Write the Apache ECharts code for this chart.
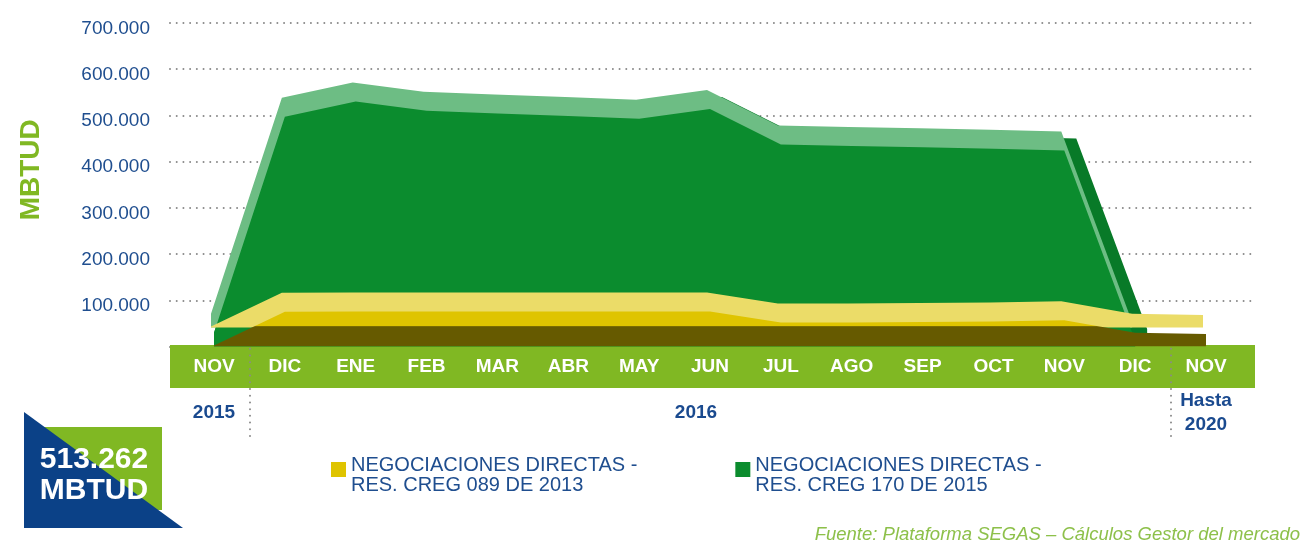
<!DOCTYPE html>
<html>
<head>
<meta charset="utf-8">
<script src="https://cdn.jsdelivr.net/npm/echarts@6/dist/echarts.min.js"></script>
<style>
  html, body { margin: 0; padding: 0; background: #fff; }
  #chart { width: 1303px; height: 544px; }
</style>
</head>
<body>
<div id="chart"></div>
<script>
// months (x axis) and the year under each one
const months = ['NOV', 'DIC', 'ENE', 'FEB', 'MAR', 'ABR', 'MAY', 'JUN', 'JUL', 'AGO', 'SEP', 'OCT', 'NOV', 'DIC', 'NOV'];
const years  = ['2015', '', '', '', '', '', '', '2016', '', '', '', '', '', '', 'Hasta\n2020'];
// dotted separators between years, as category positions
const yearBreaks = [0.5, 13.5];

// MBTUD
const res089 = [2000, 75000, 76000, 76000, 76000, 76000, 76000, 76000, 52000, 52000, 53000, 54000, 57000, 30000, 27000];
const res170 = [30000, 497000, 530000, 510000, 504000, 499000, 493000, 514000, 437000, 434000, 431000, 428000, 424000, 12000, null];

const name089 = 'NEGOCIACIONES DIRECTAS -\nRES. CREG 089 DE 2013';
const name170 = 'NEGOCIACIONES DIRECTAS -\nRES. CREG 170 DE 2015';
const total = '513.262';
const fuente = 'Fuente: Plataforma SEGAS – Cálculos Gestor del mercado';

const yFloor = 44000;   // top of the dark base under the yellow band

const BLUE = '#1f4e8f';
const LIME = '#80b823';
const DOTS = { color: '#8a8a8a', width: 2, type: [0.01, 6.7], cap: 'round' };

const chart = echarts.init(document.getElementById('chart'));

function fmt(v) {
    if (!v) return '';
    return String(v).replace(/\B(?=(\d{3})+(?!\d))/g, '.');
}

const gridTop = 23, gridBottom = 197.5;

function buildOption(floorPx) {
    return {
        animation: false,
        textStyle: { fontFamily: 'Liberation Sans, Arial, sans-serif' },
        title: {
            text: fuente,
            right: 3, bottom: 0, padding: 0,
            textStyle: { color: '#8dc04a', fontSize: 18.5, fontStyle: 'italic', fontWeight: 'normal' }
        },
        legend: {
            left: 326, top: 439,
            icon: 'rect',
            itemWidth: 15, itemHeight: 15,
            itemGap: 98,
            data: [
                { name: name089, itemStyle: { color: '#dfc400' } },
                { name: name170, itemStyle: { color: '#0b8c2e' } }
            ],
            formatter: (name) => '{b| }\n' + name.split('\n').map(s => '{a|' + s + '}').join('\n'),
            textStyle: {
                color: BLUE, fontSize: 20, lineHeight: 20,
                rich: {
                    a: { color: BLUE, fontSize: 20, lineHeight: 20 },
                    b: { fontSize: 2, lineHeight: 11 }
                }
            }
        },
        grid: [
            { left: 170, right: 48, top: gridTop, bottom: gridBottom, outerBoundsMode: 'none' },
            { left: 178.57, right: 61.57, top: gridTop, bottom: gridBottom, outerBoundsMode: 'none' },
            { left: 178.57, right: 61.57, top: 345, bottom: 108, outerBoundsMode: 'none' }
        ],
        xAxis: [
            {   // green label band
                type: 'value', gridIndex: 0, min: 0, max: 1, offset: 20,
                axisLine: { show: true, onZero: false, lineStyle: { color: LIME, width: 43, cap: 'butt' } },
                axisTick: { show: false }, axisLabel: { show: false }, splitLine: { show: false }
            },
            {
                type: 'category', gridIndex: 1, data: months, boundaryGap: true,
                axisLine: { show: false, onZero: false }, axisTick: { show: false },
                axisLabel: {
                    interval: 0, margin: 20, verticalAlign: 'middle',
                    color: '#fff', fontSize: 19, fontWeight: 'bold'
                }
            },
            {
                type: 'category', gridIndex: 2, data: months, boundaryGap: true,
                axisLine: { show: false, onZero: false }, axisTick: { show: false },
                axisLabel: {
                    interval: 0, inside: true, margin: 23, verticalAlign: 'middle',
                    color: '#1a4a8f', fontSize: 19, fontWeight: 'bold', lineHeight: 24,
                    formatter: (v, i) => i === 7 ? '{s|' + years[i] + '}' : years[i],
                    rich: { s: { color: '#1a4a8f', fontSize: 19, fontWeight: 'bold', padding: [0, 28, 0, 0] } }
                },
                splitLine: { show: false }
            },
            {
                type: 'value', gridIndex: 2, min: -0.5, max: months.length - 0.5, show: false
            }
        ],
        yAxis: [
            {
                type: 'value', gridIndex: 0, min: 0, max: 700000, interval: 100000,
                axisLine: { show: false, onZero: false }, axisTick: { show: false },
                axisLabel: { color: BLUE, fontSize: 19, margin: 20, verticalAlign: 'top', lineHeight: 11, formatter: fmt },
                splitLine: { lineStyle: DOTS },
                name: 'MBTUD', nameLocation: 'middle', nameRotate: 90, nameGap: 125,
                nameTextStyle: { color: LIME, fontSize: 28, fontWeight: 'bold', padding: [0, 0, 0, 30] }
            },
            { type: 'value', gridIndex: 1, min: 0, max: 700000, show: false },
            { type: 'value', gridIndex: 2, min: 0, max: 1, show: false }
        ],
        series: [
            {   // dark side face of the green block
                name: name170, type: 'line', xAxisIndex: 1, yAxisIndex: 1,
                data: res170, symbol: 'none', silent: true,
                itemStyle: { color: '#0b8c2e' },
                lineStyle: { width: 0, opacity: 0 },
                areaStyle: {
                    color: '#0b8c2e', opacity: 1,
                    shadowColor: '#087a28', shadowBlur: 0, shadowOffsetX: 12, shadowOffsetY: -12
                }
            },
            {   // green front face + light top face
                name: name170, type: 'line', xAxisIndex: 1, yAxisIndex: 1,
                data: res170, symbol: 'none', silent: true,
                itemStyle: { color: '#0b8c2e' },
                lineStyle: { width: 0, opacity: 0 },
                areaStyle: {
                    color: '#0b8c2e', opacity: 1,
                    shadowColor: '#6dbd84', shadowBlur: 0, shadowOffsetX: -3, shadowOffsetY: -19
                }
            },
            {
                name: name089, type: 'line', xAxisIndex: 1, yAxisIndex: 1,
                data: res089, symbol: 'none', silent: true,
                itemStyle: { color: '#dfc400' },
                lineStyle: { width: 0, opacity: 0 },
                areaStyle: {
                    color: floorPx == null ? '#dfc400' : {
                        type: 'linear', global: true, x: 0, y: floorPx - 0.5, x2: 0, y2: floorPx + 0.5,
                        colorStops: [{ offset: 0, color: '#dfc400' }, { offset: 1, color: '#665a00' }]
                    },
                    opacity: 1,
                    shadowColor: '#ebdc68', shadowBlur: 0, shadowOffsetX: -3, shadowOffsetY: -19
                }
            },
            {   // year separators
                name: 'sep', type: 'line', xAxisIndex: 3, yAxisIndex: 2, data: [], silent: true, z: 5,
                markLine: {
                    silent: true, symbol: ['none', 'none'], label: { show: false },
                    lineStyle: DOTS,
                    data: yearBreaks.map(x => ({ xAxis: x }))
                }
            }
        ],
        graphic: [
            { type: 'rect', shape: { x: 24, y: 427, width: 138, height: 83 }, style: { fill: LIME } },
            { type: 'polygon', shape: { points: [[24, 412], [24, 528], [183, 528]] }, style: { fill: '#0b4187' } },
            {
                type: 'text', x: 94, y: 460,
                style: { text: total, fill: '#fff', font: 'bold 30px Liberation Sans', textAlign: 'center', textVerticalAlign: 'middle' }
            },
            {
                type: 'text', x: 94, y: 491,
                style: { text: 'MBTUD', fill: '#fff', font: 'bold 30px Liberation Sans', textAlign: 'center', textVerticalAlign: 'middle' }
            }
        ]
    };
}

chart.setOption(buildOption(null));
const floorPx = chart.convertToPixel({ gridIndex: 1 }, [0, yFloor])[1];
chart.setOption(buildOption(floorPx), true);
</script>
</body>
</html>
